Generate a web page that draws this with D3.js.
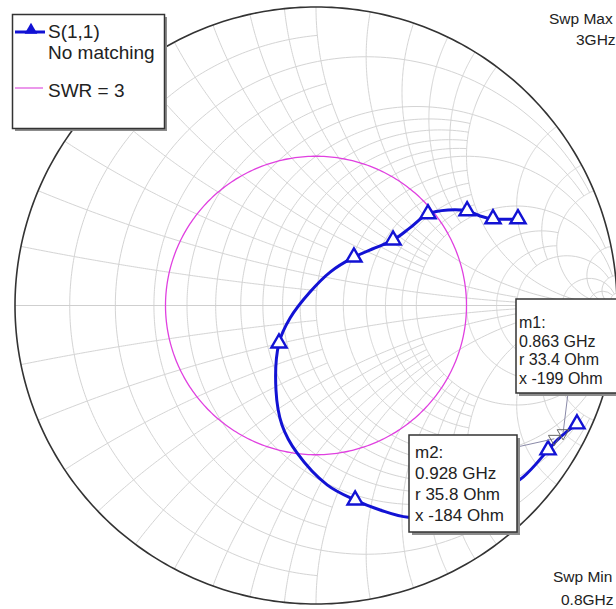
<!DOCTYPE html>
<html>
<head>
<meta charset="utf-8">
<script src="https://cdn.jsdelivr.net/npm/d3@7"></script>
<style>
body { margin: 0; background: #fff; }
svg text { font-family: "Liberation Sans", Arial, sans-serif; fill: #222; }
</style>
</head>
<body>
<script>
//smith chart grid values (normalized r and x) and the value where each line stops
var gridVals = [0.1, 0.2, 0.3, 0.4, 0.5, 0.6, 0.7, 0.8, 0.9, 1.0, 1.2, 1.4, 1.6, 1.8, 2, 3, 4, 5, 10, 20, 50];
var gridStop = [1, 5, 1, 1, 5, 2, 2, 2, 2, 10, 2, 2, 2, 2, 20, 5, 5, 20, 50, 50, Infinity];

//S(1,1) trace as reflection coefficient, from 0.8 GHz to 3 GHz
var traceRe = [0.867, 0.831, 0.801, 0.771, 0.688, 0.578, 0.445, 0.306, 0.213, 0.130,
               0.037, -0.063, -0.113, -0.133, -0.123, -0.086, -0.020, 0.047, 0.126, 0.196,
               0.256, 0.312, 0.372, 0.439, 0.502, 0.545, 0.588, 0.671];
var traceIm = [-0.397, -0.424, -0.451, -0.484, -0.575, -0.645, -0.692, -0.709, -0.685, -0.652,
               -0.601, -0.494, -0.400, -0.283, -0.126, -0.042, 0.045, 0.112, 0.162, 0.193,
               0.219, 0.260, 0.307, 0.320, 0.317, 0.300, 0.290, 0.290];
var symbolIdx = [0, 3, 9, 14, 18, 20, 22, 24, 26, 27];

//constant SWR circle
var swrValue = 3;

//markers
var markerNames = ["m1", "m2"];
var markerFreqs = ["0.863 GHz", "0.928 GHz"];
var markerR = [33.4, 35.8];
var markerX = [-199, -184];
var z0 = 50;

window.onload = function() {

    var width = 616, height = 609;
    var cx = 316, cy = 305.5, rx = 301, ry = 298.5;

    var svg = d3.select("body")
        .append("svg")
        .attr("width", width)
        .attr("height", height);

    //gamma plane scales
    var x = d3.scaleLinear().domain([-1, 1]).range([cx - rx, cx + rx]);
    var y = d3.scaleLinear().domain([-1, 1]).range([cy + ry, cy - ry]);

    var line = d3.line()
        .x(function(d) { return x(d[0]); })
        .y(function(d) { return y(d[1]); });

    //normalized impedance -> reflection coefficient
    function gam(r, xx) {
        var den = (r + 1) * (r + 1) + xx * xx;
        return [(r * r - 1 + xx * xx) / den, 2 * xx / den];
    }

    var grid = svg.append("g").attr("class", "grid");

    //constant resistance circles
    gridVals.forEach(function(r, i) {
        var a = Math.atan(gridStop[i]);
        var pts = d3.range(0, 241).map(function(k) {
            return gam(r, Math.tan(-a + 2 * a * k / 240));
        });
        grid.append("path")
            .attr("d", line(pts))
            .style("fill", "none")
            .style("stroke", "#d4d4d4")
            .style("stroke-width", 1);
    });

    //constant reactance arcs
    gridVals.forEach(function(xx, i) {
        var a = Math.atan(gridStop[i]);
        [1, -1].forEach(function(s) {
            var pts = d3.range(0, 161).map(function(k) {
                return gam(Math.tan(a * k / 160), s * xx);
            });
            grid.append("path")
                .attr("d", line(pts))
                .style("fill", "none")
                .style("stroke", "#d4d4d4")
                .style("stroke-width", 1);
        });
    });

    //real axis
    grid.append("line")
        .attr("x1", x(-1)).attr("x2", x(1))
        .attr("y1", y(0)).attr("y2", y(0))
        .style("stroke", "#cfcfcf")
        .style("stroke-width", 1.2);

    //outer circle
    var ring = d3.range(0, 361).map(function(k) {
        var t = k * Math.PI / 180;
        return [Math.cos(t), Math.sin(t)];
    });
    svg.append("path")
        .attr("d", line(ring))
        .style("fill", "none")
        .style("stroke", "#333")
        .style("stroke-width", 1.6);

    //SWR = 3 circle
    var g = (swrValue - 1) / (swrValue + 1);
    svg.append("path")
        .attr("d", line(ring.map(function(p) { return [p[0] * g, p[1] * g]; })))
        .style("fill", "none")
        .style("stroke", "#e040e0")
        .style("stroke-width", 1.3);

    //trace
    var trace = traceRe.map(function(d, i) { return [d, traceIm[i]]; });
    svg.append("path")
        .attr("class", "trace")
        .attr("d", line.curve(d3.curveCatmullRom)(trace))
        .style("fill", "none")
        .style("stroke", "#1212d4")
        .style("stroke-width", 3);
    line.curve(d3.curveLinear);

    var tri = d3.symbol().type(d3.symbolTriangle).size(100);
    svg.selectAll(".tri")
        .data(symbolIdx)
        .enter()
        .append("path")
        .attr("class", "tri")
        .attr("d", tri)
        .attr("transform", function(d) {
            return "translate(" + x(traceRe[d]) + "," + y(traceIm[d]) + ")";
        })
        .style("fill", "#fff")
        .style("stroke", "#1212d4")
        .style("stroke-width", 2.4);

    //marker positions from r and x
    var mPos = markerR.map(function(r, i) {
        return gam(r / z0, markerX[i] / z0);
    });

    //marker boxes
    var boxes = [
        {x: 516, y: 299, w: 110, h: 94, tx: 519, ty: 328, dy: 18.5, fs: 16, lx: 568, ly: 393},
        {x: 409, y: 435, w: 108, h: 97, tx: 415, ty: 458, dy: 21, fs: 17, lx: 517, ly: 447}
    ];

    boxes.forEach(function(b, i) {
        svg.append("line")
            .attr("x1", b.lx).attr("y1", b.ly)
            .attr("x2", x(mPos[i][0])).attr("y2", y(mPos[i][1]))
            .style("stroke", "#8a8aa8")
            .style("stroke-width", 1);
    });

    svg.selectAll(".mk")
        .data(mPos)
        .enter()
        .append("path")
        .attr("class", "mk")
        .attr("d", d3.symbol().type(d3.symbolTriangle).size(60))
        .attr("transform", function(d) {
            return "translate(" + x(d[0]) + "," + y(d[1]) + ") rotate(180)";
        })
        .style("fill", "none")
        .style("stroke", "#666")
        .style("stroke-width", 1);

    boxes.forEach(function(b, i) {
        var bg = svg.append("g");
        bg.append("rect")
            .attr("x", b.x + 3).attr("y", b.y + 3)
            .attr("width", b.w).attr("height", b.h)
            .style("fill", "#8c8c8c");
        bg.append("rect")
            .attr("x", b.x).attr("y", b.y)
            .attr("width", b.w).attr("height", b.h)
            .style("fill", "#fff")
            .style("stroke", "#333")
            .style("stroke-width", 1.5);
        var lines = [markerNames[i] + ":", markerFreqs[i],
                     "r " + markerR[i] + " Ohm", "x -" + Math.abs(markerX[i]) + " Ohm"];
        bg.selectAll("text")
            .data(lines)
            .enter()
            .append("text")
            .attr("x", b.tx)
            .attr("y", function(d, k) { return b.ty + k * b.dy; })
            .style("font-size", b.fs + "px")
            .text(function(d) { return d; });
    });

    //legend
    var leg = svg.append("g").attr("class", "legend");
    leg.append("rect")
        .attr("x", 15).attr("y", 17)
        .attr("width", 152).attr("height", 114)
        .style("fill", "#8c8c8c");
    leg.append("rect")
        .attr("x", 12.5).attr("y", 14.5)
        .attr("width", 152).attr("height", 114)
        .style("fill", "#fff")
        .style("stroke", "#333")
        .style("stroke-width", 1.5);
    leg.append("line")
        .attr("x1", 15).attr("x2", 45).attr("y1", 32).attr("y2", 32)
        .style("stroke", "#1212d4").style("stroke-width", 3);
    leg.append("path")
        .attr("d", d3.symbol().type(d3.symbolTriangle).size(70))
        .attr("transform", "translate(31,30)")
        .style("fill", "#1212d4");
    leg.append("line")
        .attr("x1", 15).attr("x2", 43).attr("y1", 88).attr("y2", 88)
        .style("stroke", "#e060e0").style("stroke-width", 1.3);
    leg.selectAll("text")
        .data(["S(1,1)", "No matching", "SWR = " + swrValue])
        .enter()
        .append("text")
        .attr("x", 48)
        .attr("y", function(d, i) { return [38, 59, 97][i]; })
        .style("font-size", "19px")
        .text(function(d) { return d; });

    //sweep labels
    var sweep = [["Swp Max", 549, 24], ["3GHz", 576, 45], ["Swp Min", 553, 582], ["0.8GHz", 561, 605]];
    svg.selectAll(".swp")
        .data(sweep)
        .enter()
        .append("text")
        .attr("class", "swp")
        .attr("x", function(d) { return d[1]; })
        .attr("y", function(d) { return d[2]; })
        .style("font-size", "15.5px")
        .text(function(d) { return d[0]; });
}
</script>
</body>
</html>
